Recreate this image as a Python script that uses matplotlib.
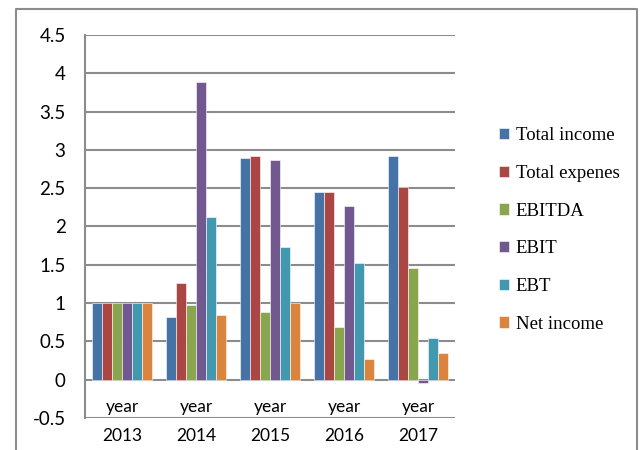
import matplotlib.pyplot as plt
import numpy as np
from matplotlib.lines import Line2D

# ---------------------------------------------------------------------------
# Data
# ---------------------------------------------------------------------------

years = ["2013", "2014", "2015", "2016", "2017"]
series_names = ["Total income", "Total expenes", "EBITDA", "EBIT", "EBT", "Net income"]

total_income   = [1.00, 0.82, 2.90, 2.45, 2.92]
total_expenses = [1.00, 1.26, 2.92, 2.45, 2.51]
ebitda         = [1.00, 0.98, 0.89, 0.69, 1.46]
ebit           = [1.00, 3.89, 2.87, 2.27, -0.04]
ebt            = [1.00, 2.12, 1.73, 1.52, 0.55]
net_income     = [1.00, 0.84, 1.00, 0.27, 0.35]

colors = ["#4572A7", "#AA4643", "#89A54E", "#71588F", "#4198AF", "#DB843D"]

# ---------------------------------------------------------------------------
# Figure
# ---------------------------------------------------------------------------

W, H = 644, 450
fig = plt.figure(figsize=(W / 100, H / 100), dpi=100)

# outer chart frame (bottom edge runs off the image)
fx0, fx1, fy1 = 15.5 / W, 636.5 / W, 1 - 8.5 / H
fig.add_artist(Line2D([fx0, fx0, fx1, fx1], [-0.1, fy1, fy1, -0.1],
                      transform=fig.transFigure, color="#8c8c8c", linewidth=1.5))

ax = fig.add_axes([85 / W, 1 - 418 / H, (455 - 85) / W, (418 - 35) / H])

all_series = [total_income, total_expenses, ebitda, ebit, ebt, net_income]
x = np.arange(len(years))
n = len(all_series)
bw = 0.8 / n
for i, (vals, name, c) in enumerate(zip(all_series, series_names, colors)):
    ax.bar(x - 0.4 + bw * (i + 0.5), vals, width=bw, color=c, label=name,
           edgecolor="white", linewidth=0.4, zorder=3)

ax.set_xlim(-0.5, len(years) - 0.5)
ax.set_ylim(-0.5, 4.5)
yt = np.arange(-0.5, 4.51, 0.5)
ax.set_yticks(yt)
ax.set_yticklabels([f"{v:g}" for v in yt], fontsize=13.5, family="Lato")
ax.yaxis.grid(True, color="#8c8c8c", linewidth=1.5, zorder=0)
ax.set_axisbelow(True)

# category labels: "year" above the -0.5 line, the year itself below it
ax.set_xticks(x)
ax.set_xticklabels(years, fontsize=12.5, family="Lato")
ax.tick_params(axis="x", length=0, pad=7)
for xi in x:
    ax.text(xi, -0.36, "year", ha="center", va="center", fontsize=12.5,
            family="Lato")
ax.spines["bottom"].set_visible(False)
ax.tick_params(axis="y", length=0, pad=14)

for s in ["top", "right"]:
    ax.spines[s].set_visible(False)
ax.spines["left"].set_color("#8c8c8c")
ax.spines["left"].set_linewidth(1.5)

fig.legend(loc="center left", bbox_to_anchor=(482 / W, 1 - 230 / H),
           frameon=False, prop={"family": "Liberation Serif", "size": 13.5},
           handlelength=0.55, handleheight=0.55, handletextpad=0.35,
           labelspacing=1.1)

fig.savefig("out.png", dpi=100)
